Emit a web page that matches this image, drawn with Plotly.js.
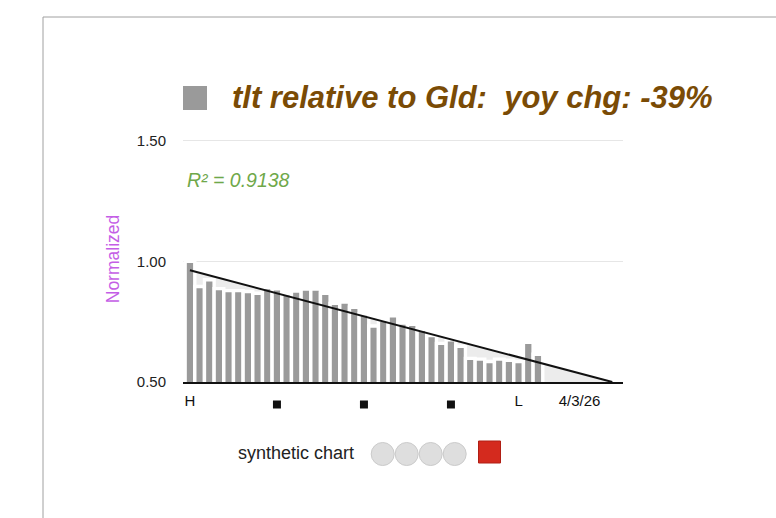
<!DOCTYPE html>
<html>
<head>
<meta charset="utf-8">
<script src="https://cdn.plot.ly/plotly-3.0.1.min.js"></script>
<style>html,body{margin:0;padding:0;background:#fff;}#chart{width:776px;height:518px;}</style>
</head>
<body>
<div id="chart"></div>
<script>
// ---- data ----
const values = [1.00,0.896,0.924,0.887,0.879,0.879,0.875,0.868,0.892,0.886,0.866,0.877,0.885,0.885,0.868,0.826,0.832,0.810,0.782,0.732,0.757,0.774,0.744,0.739,0.718,0.693,0.660,0.675,0.648,0.598,0.595,0.585,0.595,0.590,0.585,0.665,0.615];
const xTickPos = [0, 34, 40.3];
const xTickText = ['H', 'L', '4/3/26'];
const markerPos = [9, 18, 27];
const yTickVals = [0.5, 1.0, 1.5];
const yTickText = ['0.50', '1.00', '1.50'];
const titleText = 'tlt relative to Gld:\u00a0 yoy chg: -39%';
const r2Text = 'R² = 0.9138';
const legendText = 'synthetic chart';

// ---- regression ----
const xIdx = values.map((_, i) => i);
const n = values.length;
const mx = xIdx.reduce((s, v) => s + v, 0) / n;
const my = values.reduce((s, v) => s + v, 0) / n;
let sxy = 0, sxx = 0;
for (let i = 0; i < n; i++) { sxy += (xIdx[i] - mx) * (values[i] - my); sxx += (xIdx[i] - mx) ** 2; }
const slope = sxy / sxx;
const icpt = my - slope * mx;
const yMin = 0.5;
const xEnd = (yMin - icpt) / slope;

// pixel -> paper helpers
const PL = 183, PR = 623, PT = 136, PB = 382;
const xp = px => (px - PL) / (PR - PL);
const yp = py => (PB - py) / (PB - PT);

const FONT = 'Liberation Sans, Arial, Helvetica, sans-serif';

const traces = [
  {
    type: 'bar', x: xIdx, y: values,
    marker: { color: '#9a9a9a', line: { color: '#ffffff', width: 3.4 } },
    hoverinfo: 'skip'
  },
  {
    type: 'scatter', mode: 'lines', x: [0, xEnd], y: [icpt + slope * 0, yMin],
    line: { color: '#111111', width: 2 }, cliponaxis: false, hoverinfo: 'skip'
  }
];

const shapes = [
  // trend fill under line
  { type: 'path', xref: 'x', yref: 'y', layer: 'below',
    path: `M 0,${icpt} L ${xEnd},${yMin} L 0,${yMin} Z`,
    fillcolor: '#ececec', line: { width: 0 } },
  // frame
  { type: 'line', xref: 'paper', yref: 'paper', x0: xp(43), x1: xp(780), y0: yp(17), y1: yp(17), line: { color: '#a0a0a0', width: 1 } },
  { type: 'line', xref: 'paper', yref: 'paper', x0: xp(43), x1: xp(43), y0: yp(17), y1: yp(522), line: { color: '#a0a0a0', width: 1 } },
  // title legend square
  { type: 'rect', xref: 'paper', yref: 'paper', x0: xp(183), x1: xp(207), y0: yp(110), y1: yp(86), fillcolor: '#9a9a9a', line: { width: 0 } },
  // red square
  { type: 'rect', xref: 'paper', yref: 'paper', x0: xp(478.5), x1: xp(500.5), y0: yp(463), y1: yp(441), fillcolor: '#d42a1e', line: { color: '#b01e14', width: 1 } }
];
// small black squares under the axis at the given bar positions
markerPos.forEach(p => {
  shapes.push({ type: 'rect', xref: 'x', yref: 'paper', xsizemode: 'pixel', ysizemode: 'pixel',
    xanchor: p, yanchor: yp(404.5), x0: -4, x1: 4, y0: -4, y1: 4,
    fillcolor: '#111111', line: { width: 0 } });
});
// grey circles
[382.7, 406.7, 430.7, 454.7].forEach(cx => {
  shapes.push({ type: 'circle', xref: 'paper', yref: 'paper', x0: xp(cx - 11.5), x1: xp(cx + 11.5), y0: yp(465.5), y1: yp(442.5), fillcolor: '#dedede', line: { color: '#cbcbcb', width: 1 } });
});

const annotations = [
  { xref: 'paper', yref: 'paper', x: xp(230), y: yp(98), xanchor: 'left', yanchor: 'middle', showarrow: false,
    text: '<b><i>' + titleText + '</i></b>', font: { family: FONT, size: 31, color: '#7a4b05' } },
  { xref: 'paper', yref: 'paper', x: xp(185), y: yp(180), xanchor: 'left', yanchor: 'middle', showarrow: false,
    text: '<i>' + r2Text + '</i>', font: { family: FONT, size: 19.5, color: '#6fa84a' } },
  { xref: 'paper', yref: 'paper', x: xp(236), y: yp(453), xanchor: 'left', yanchor: 'middle', showarrow: false,
    text: legendText, font: { family: FONT, size: 18, color: '#222222' } }
];

const layout = {
  width: 776, height: 518,
  margin: { l: PL, r: 776 - PR, t: PT, b: 518 - PB, pad: 0 },
  paper_bgcolor: '#ffffff', plot_bgcolor: '#ffffff',
  showlegend: false,
  bargap: 0,
  font: { family: FONT, size: 15, color: '#222222' },
  xaxis: {
    range: [-0.72, 44.8], tickmode: 'array', tickvals: xTickPos, ticktext: xTickText,
    showgrid: false, zeroline: false, showline: true, linecolor: '#111111', linewidth: 2,
    ticks: 'outside', ticklen: 4, tickcolor: 'rgba(0,0,0,0)',
    tickfont: { family: FONT, size: 15, color: '#111111' }, fixedrange: true
  },
  yaxis: {
    range: [0.5, 1.52], tickmode: 'array', tickvals: yTickVals, ticktext: yTickText,
    showgrid: true, gridcolor: '#e6e6e6', gridwidth: 1, zeroline: false, showline: false,
    ticks: 'outside', ticklen: 13, tickcolor: 'rgba(0,0,0,0)',
    tickfont: { family: FONT, size: 15, color: '#222222' },
    title: { text: 'Normalized', font: { family: FONT, size: 17.5, color: '#c45ee6' }, standoff: 12 },
    fixedrange: true
  },
  shapes: shapes,
  annotations: annotations
};

Plotly.newPlot('chart', traces, layout, { displayModeBar: false, staticPlot: true });
</script>
</body>
</html>
